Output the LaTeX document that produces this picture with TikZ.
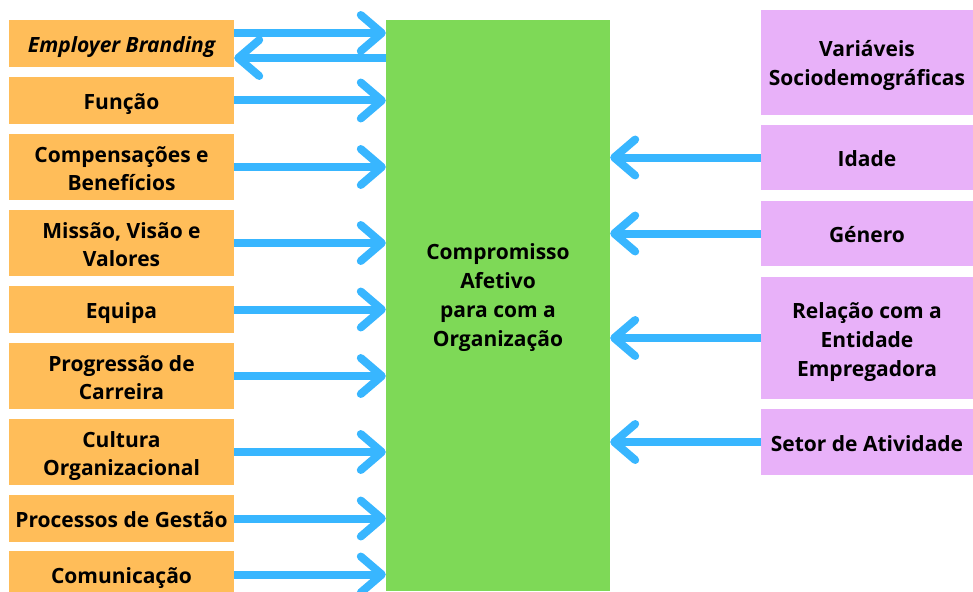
\documentclass[tikz,border=0pt]{standalone}
\usepackage{fontspec}
\setmainfont{Open Sans}
\usetikzlibrary{arrows.meta}
\definecolor{orng}{HTML}{FFBD59}
\definecolor{grn}{HTML}{7ED957}
\definecolor{pnk}{HTML}{E8B1F9}
\definecolor{blu}{HTML}{38B6FF}
\newcommand\tpr{\rule{0pt}{24pt}}
\newcommand\btr{\rule[-6pt]{0pt}{6pt}}
\begin{document}
\begin{tikzpicture}[x=1pt,y=-1pt,
  lbox/.style={fill=orng, draw=none, minimum width=225pt, inner sep=0pt, align=center, font=\fontsize{21}{28}\selectfont\bfseries},
  rbox/.style={fill=pnk, draw=none, minimum width=212pt, inner sep=0pt, align=center, font=\fontsize{21}{29}\selectfont\bfseries},
  conn/.style={draw=blu, line width=8pt, -{Straight Barb[length=21pt,width=36pt,round]}}
]
\useasboundingbox (0,0) rectangle (973,591);
% left boxes
\node[lbox, minimum height=47pt] (eb) at (121.5,43.5) {\tpr\btr\itshape Employer Branding};
\node[lbox, minimum height=47pt] (fu) at (121.5,100.5) {\tpr\btr Função};
\node[lbox, minimum height=66pt] (cb) at (121.5,167) {\tpr Compensações e\\Benefícios\btr};
\node[lbox, minimum height=66pt] (mv) at (121.5,243) {\tpr Missão, Visão e\\Valores\btr};
\node[lbox, minimum height=47pt] (eq) at (121.5,309.5) {\tpr\btr Equipa};
\node[lbox, minimum height=66pt] (pc) at (121.5,376) {\tpr Progressão de\\Carreira\btr};
\node[lbox, minimum height=66pt] (co) at (121.5,452) {\tpr Cultura\\Organizacional\btr};
\node[lbox, minimum height=47pt] (pg) at (121.5,518.5) {\tpr\btr Processos de Gestão};
\node[lbox, minimum height=47pt] (cm) at (121.5,574.5) {\tpr\btr Comunicação};
% central
\node[fill=grn, draw=none, minimum width=224pt, minimum height=571pt, inner sep=0pt] (ce) at (498,305.5) {};
\node[align=center, inner sep=0pt, font=\fontsize{21}{29}\selectfont\bfseries] (cet) at ([yshift=8pt]ce.center)
  {Compromisso\\Afetivo\hspace*{50pt}\\para com a\\Organização};
% right boxes
\node[rbox, minimum height=105pt] (vs) at (867,62.5) {\tpr Variáveis\\Sociodemográficas\btr};
\node[rbox, minimum height=65pt] (id) at (867,157.5) {\tpr\btr Idade};
\node[rbox, minimum height=65pt] (ge) at (867,233.5) {\tpr\btr Género};
\node[rbox, minimum height=122pt] (re) at (867,338) {\tpr Relação com a\\Entidade\\Empregadora\btr};
\node[rbox, minimum height=66pt] (se) at (867,442) {\tpr\btr Setor de Atividade};
% arrows left
\draw[conn] ([yshift=10.5pt]eb.east) -- ([yshift=10.5pt]eb.east -| ce.west);
\draw[conn] ([yshift=-14.5pt]eb.east -| ce.west) -- ([yshift=-14.5pt]eb.east);
\foreach \n in {fu,cb,mv,eq,pc,co,pg,cm}
  \draw[conn] (\n.east) -- (\n.east -| ce.west);
% arrows right
\foreach \n in {id,ge,re,se}
  \draw[conn] (\n.west) -- (\n.west -| ce.east);
\end{tikzpicture}
\end{document}
